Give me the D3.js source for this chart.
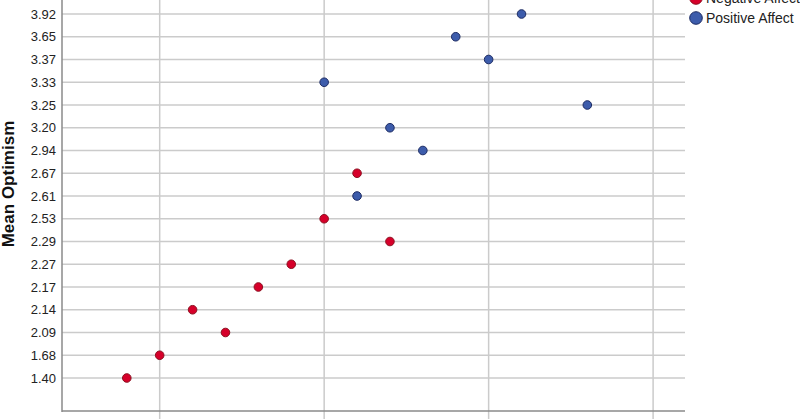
<!DOCTYPE html>
<html><head><meta charset="utf-8">
<script src="https://cdn.jsdelivr.net/npm/d3@7"></script>
<style>body{margin:0;background:#fff}svg{display:block}</style>
</head><body>
<svg id="c" width="800" height="419"></svg>
<script>
const categories = ["1.40","1.68","2.09","2.14","2.17","2.27","2.29","2.53","2.61","2.67","2.94","3.20","3.25","3.33","3.37","3.65","3.92"];
const negativeAffect = [
  {cat:"1.40", x:4},{cat:"1.68", x:5},{cat:"2.09", x:7},{cat:"2.14", x:6},
  {cat:"2.17", x:8},{cat:"2.27", x:9},{cat:"2.29", x:12},{cat:"2.53", x:10},{cat:"2.67", x:11}
];
const positiveAffect = [
  {cat:"2.61", x:11},{cat:"2.94", x:13},{cat:"3.20", x:12},{cat:"3.25", x:18},
  {cat:"3.33", x:10},{cat:"3.37", x:15},{cat:"3.65", x:14},{cat:"3.92", x:16}
];
const xTicks = [5,10,15,20];
const xDomain = [2,21];
const legendLabels = ["Negative Affect","Positive Affect"];

const svg = d3.select("#c");
const L = 62, R = 685, B = 411, T = -20;
const x = d3.scaleLinear().domain(xDomain).range([L-1, R+1]);
const y = d3.scalePoint().domain(categories).range([378, 14]);

const grid = "#cbcbcb";
svg.append("g").selectAll("line").data(xTicks).join("line")
  .attr("x1", d=>x(d)).attr("x2", d=>x(d)).attr("y1", T).attr("y2", B+8)
  .attr("stroke", grid).attr("stroke-width", 1.5);
svg.append("g").selectAll("line").data(categories).join("line")
  .attr("x1", L).attr("x2", R).attr("y1", d=>y(d)).attr("y2", d=>y(d))
  .attr("stroke", grid).attr("stroke-width", 1.5);

const yAxis = d3.axisLeft(y).tickSize(0).tickPadding(6);
const gy = svg.append("g").attr("transform", `translate(${L},0)`).call(yAxis);
gy.select(".domain").remove();
gy.selectAll("text").attr("font-family","Arial, 'Liberation Sans', sans-serif").attr("font-size",13).attr("fill","#222");
svg.append("line").attr("x1",L).attr("x2",L).attr("y1",T).attr("y2",B+1).attr("stroke","#8a8a8a").attr("stroke-width",1.5);
svg.append("line").attr("x1",L).attr("x2",R).attr("y1",B).attr("y2",B).attr("stroke","#8a8a8a").attr("stroke-width",1.5);

svg.append("text").attr("transform","translate(14,184) rotate(-90)")
  .attr("text-anchor","middle").attr("font-family","Arial, 'Liberation Sans', sans-serif")
  .attr("font-weight","bold").attr("font-size",17).attr("fill","#111").text("Mean Optimism");

const dots = (data, fill, stroke) => svg.append("g").selectAll("circle").data(data).join("circle")
  .attr("cx", d=>x(d.x)).attr("cy", d=>y(d.cat)).attr("r", 4.3)
  .attr("fill", fill).attr("stroke", stroke).attr("stroke-width", 1);
dots(negativeAffect, "#d6002a", "#8c1020");
dots(positiveAffect, "#3d5cab", "#1c2b63");

const lg = svg.append("g");
const lcol = [["#d6002a","#8c1020"],["#3d5cab","#1c2b63"]];
legendLabels.forEach((t,i)=>{
  const cy = -2 + i*20;
  lg.append("circle").attr("cx",696).attr("cy",cy).attr("r",6.3).attr("fill",lcol[i][0]).attr("stroke",lcol[i][1]).attr("stroke-width",1);
  lg.append("text").attr("x",706).attr("y",cy+5).attr("font-family","Arial, 'Liberation Sans', sans-serif").attr("font-size",14).attr("fill","#222").text(t);
});
</script>
</body></html>
